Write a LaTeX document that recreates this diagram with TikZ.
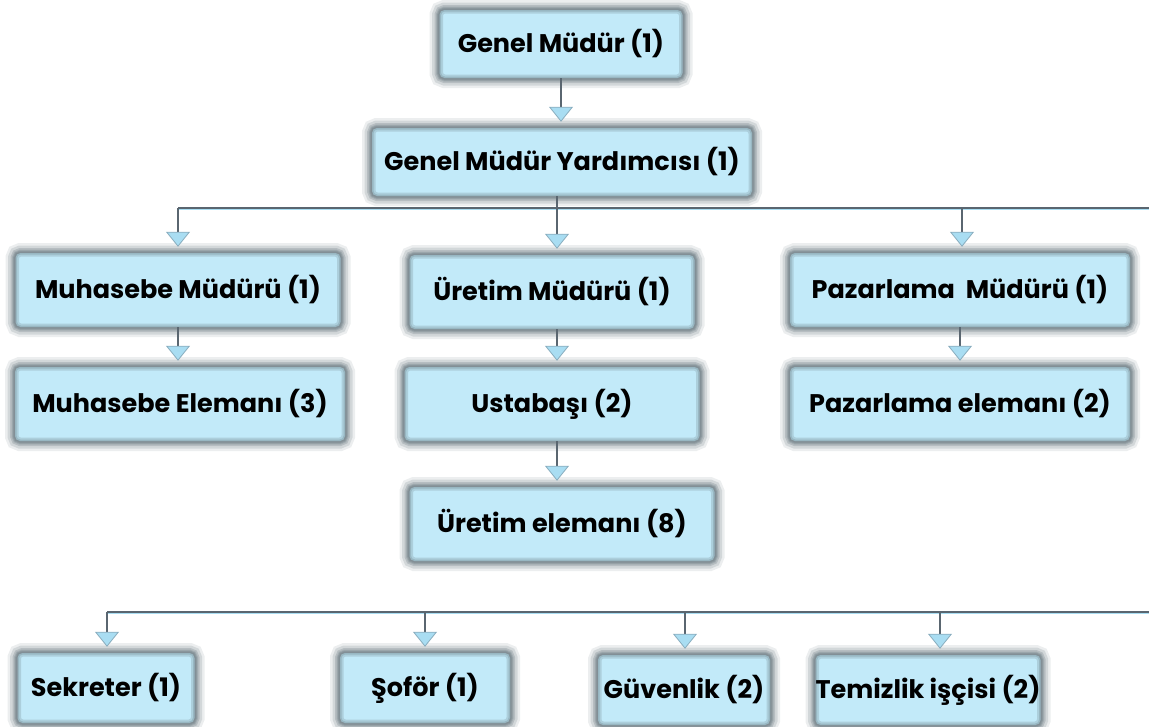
\documentclass[tikz,border=0pt]{standalone}
\usepackage{fontspec}
\setmainfont{Poppins}
\usetikzlibrary{arrows.meta}
\definecolor{kutumavi}{HTML}{C2EAF9}
\definecolor{okmavi}{HTML}{A9DDF2}
\definecolor{cizgi}{HTML}{5A6670}
\definecolor{golge}{HTML}{5F7078}
\begin{document}
\begin{tikzpicture}[x=1pt,y=-1pt]
        \tikzstyle{kutu} = [fill=kutumavi, rounded corners=5pt, minimum height=68pt,
            font=\fontsize{25.5}{28}\selectfont\bfseries, inner sep=0pt,
            preaction={draw=golge, draw opacity=0.12, line width=20pt},
            preaction={draw=golge, draw opacity=0.18, line width=15pt},
            preaction={draw=golge, draw opacity=0.25, line width=10pt},
            preaction={draw=golge, draw opacity=0.30, line width=5pt},
            postaction={draw=golge, draw opacity=0.22, line width=7pt},
            postaction={draw=golge, draw opacity=0.25, line width=3pt}]
        \tikzstyle{ok} = [draw=cizgi, line width=1.3pt, shorten >=6pt,
            -{Triangle[width=24pt,length=15pt,fill=okmavi,color=okmavi!60!cizgi,line width=0.8pt]}]
        \tikzstyle{hat} = [draw=cizgi, line width=1.3pt,
            preaction={draw=okmavi, line width=3pt, yshift=-2pt}]

        \useasboundingbox (0,0) rectangle (1149,726);

        % Yonetim
        \node[kutu, minimum width=243pt](gm) at (561,44) {Genel Müdür (1)};
        \node[kutu, minimum width=380pt](gmy) at (562,162) {Genel Müdür Yardımcısı (1)};

        % Mudurler
        \node[kutu, minimum width=325pt, minimum height=74pt](muhm) at (178,290) {Muhasebe Müdürü (1)};
        \node[kutu, minimum width=285pt, minimum height=74pt](uretm) at (552,292) {Üretim Müdürü (1)};
        \node[kutu, minimum width=340pt, minimum height=74pt](pazm) at (960,290) {Pazarlama~~Müdürü (1)};

        % Elemanlar
        \node[kutu, minimum width=330pt, minimum height=74pt](muhe) at (180,404) {Muhasebe Elemanı (3)};
        \node[kutu, minimum width=295pt, minimum height=74pt](usta) at (552,404) {Ustabaşı (2)};
        \node[kutu, minimum width=340pt, minimum height=74pt](paze) at (960,404) {Pazarlama elemanı (2)};
        \node[kutu, minimum width=305pt, minimum height=74pt](urete) at (562,524) {Üretim elemanı (8)};

        % Yardimci personel
        \node[kutu, minimum width=177pt, minimum height=70pt](sek) at (106,688) {Sekreter (1)};
        \node[kutu, minimum width=170pt, minimum height=70pt](sof) at (425,688) {Şoför (1)};
        \node[kutu, minimum width=172pt, minimum height=70pt](guv) at (684,690) {Güvenlik (2)};
        \node[kutu, minimum width=225pt, minimum height=70pt](tem) at (928,690) {Temizlik işçisi (2)};

        % Baglanti noktalari
        \coordinate (ust1) at (178,208);
        \coordinate (ust2) at (557,208);
        \coordinate (ust3) at (962,208);
        \coordinate (ustsag) at (1149,208);
        \coordinate (alt1) at (107,612);
        \coordinate (alt2) at (425,612);
        \coordinate (alt3) at (685,612);
        \coordinate (alt4) at (940,612);
        \coordinate (altsag) at (1149,612);

        % Oklar
        \draw[ok] (gm.south) -- (gm.south |- gmy.north);
        \draw[hat] (ust1) -- (ustsag);
        \draw[hat] (alt1) -- (altsag);
        \draw[draw=cizgi, line width=1.3pt] (gmy.south -| ust2) -- (ust2);
        \draw[ok] (ust1) -- (ust1 |- muhm.north);
        \draw[ok] (ust2) -- (ust2 |- uretm.north);
        \draw[ok] (ust3) -- (ust3 |- pazm.north);
        \draw[ok] (muhm.south) -- (muhm.south |- muhe.north);
        \draw[ok] (uretm.south -| ust2) -- (ust2 |- usta.north);
        \draw[ok] (pazm.south) -- (pazm.south |- paze.north);
        \draw[ok] (usta.south -| ust2) -- (ust2 |- urete.north);

        \foreach \i/\n in {1/sek,2/sof,3/guv,4/tem}
            \draw[ok] (alt\i) -- (alt\i |- \n.north);
    \end{tikzpicture}
\end{document}
